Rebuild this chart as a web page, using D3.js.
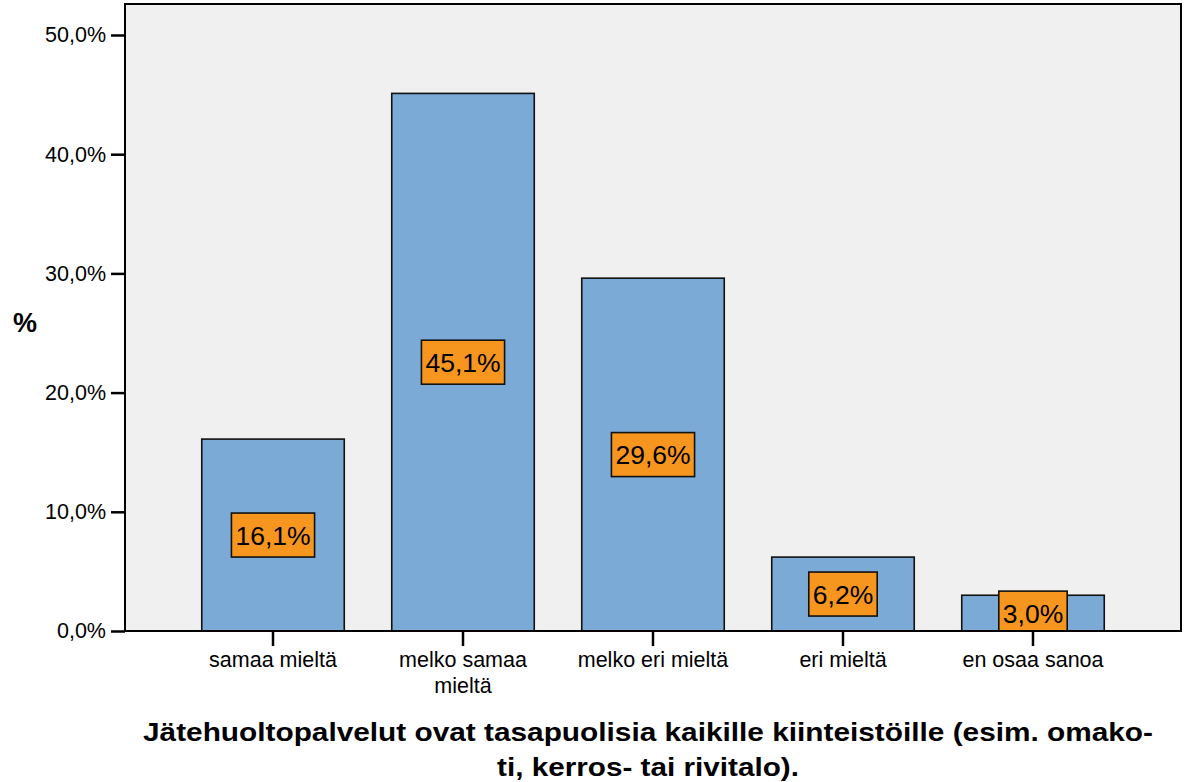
<!DOCTYPE html>
<html>
<head>
<meta charset="utf-8">
<script src="https://cdn.jsdelivr.net/npm/d3@7"></script>
<style>
  body { margin: 0; background: #fff; }
  svg { display: block; font-family: "Liberation Sans", Arial, sans-serif; }
</style>
</head>
<body>
<svg width="1189" height="782"></svg>
<script>
// chart data
const categories = ['samaa mieltä', 'melko samaa mieltä', 'melko eri mieltä', 'eri mieltä', 'en osaa sanoa'];
const values = [16.1, 45.1, 29.6, 6.2, 3.0];
const yTicks = [0, 10, 20, 30, 40, 50];
const titleLines = ['Jätehuoltopalvelut ovat tasapuolisia kaikille kiinteistöille (esim. omako-', 'ti, kerros- tai rivitalo).'];
const yTitle = '%';

const svg = d3.select('svg');
const plotLeft = 125, plotRight = 1181, plotTop = 4, plotBottom = 631;
const titleWidths = [1010, 302];

const fmt = v => v.toFixed(1).replace('.', ',') + '%';

const x = d3.scaleBand()
  .domain(categories)
  .range([plotLeft, plotRight])
  .paddingInner(0.25)
  .paddingOuter(0.404);

const y = d3.scaleLinear()
  .domain([0, 50])
  .range([plotBottom, 35]);

// plot background
svg.append('rect')
  .attr('x', plotLeft).attr('y', plotTop)
  .attr('width', plotRight - plotLeft).attr('height', plotBottom - plotTop)
  .attr('fill', '#f0f0f0');

svg.append('clipPath').attr('id', 'plot-clip')
  .append('rect')
  .attr('x', plotLeft).attr('y', plotTop)
  .attr('width', plotRight - plotLeft).attr('height', plotBottom - plotTop);

const plot = svg.append('g').attr('clip-path', 'url(#plot-clip)');

// bars
plot.selectAll('.bar')
  .data(values)
  .join('rect')
  .classed('bar', true)
  .attr('x', (d, i) => x(categories[i]))
  .attr('y', d => y(d))
  .attr('width', x.bandwidth())
  .attr('height', d => y(0) - y(d))
  .attr('fill', '#7baad6')
  .attr('stroke', '#111')
  .attr('stroke-width', 1.6);

// value labels
const lab = plot.selectAll('.lab')
  .data(values)
  .join('g')
  .classed('lab', true)
  .attr('transform', (d, i) => `translate(${x(categories[i]) + x.bandwidth() / 2},${y(d / 2)})`);

lab.append('rect')
  .attr('fill', '#f7961e')
  .attr('stroke', '#111')
  .attr('stroke-width', 1.6);

lab.append('text')
  .attr('text-anchor', 'middle')
  .attr('dy', '0.36em')
  .attr('font-size', 26.5)
  .attr('fill', '#000')
  .text(d => fmt(d));

lab.each(function() {
  const g = d3.select(this);
  const w = g.select('text').node().getComputedTextLength();
  g.select('rect')
    .attr('x', -w / 2 - 4).attr('y', -22)
    .attr('width', w + 8).attr('height', 44);
});

// frame
svg.append('rect')
  .attr('x', plotLeft).attr('y', plotTop)
  .attr('width', plotRight - plotLeft).attr('height', plotBottom - plotTop)
  .attr('fill', 'none')
  .attr('stroke', '#000')
  .attr('stroke-width', 2);

// y axis
const yAxis = svg.append('g')
  .attr('transform', `translate(${plotLeft},0)`)
  .call(d3.axisLeft(y).tickValues(yTicks).tickFormat(fmt).tickSize(14).tickPadding(5));
yAxis.select('.domain').remove();
yAxis.selectAll('line').attr('stroke', '#000').attr('stroke-width', 2.5);
yAxis.selectAll('text')
  .attr('font-size', 21.5)
  .attr('font-family', '"Liberation Sans", Arial, sans-serif')
  .attr('fill', '#000');

// x axis
const xAxis = svg.append('g')
  .attr('transform', `translate(0,${plotBottom})`)
  .call(d3.axisBottom(x).tickSize(15).tickPadding(6));
xAxis.select('.domain').remove();
xAxis.selectAll('line').attr('stroke', '#000').attr('stroke-width', 2.5);
xAxis.selectAll('text')
  .attr('font-size', 21.5)
  .attr('font-family', '"Liberation Sans", Arial, sans-serif')
  .attr('fill', '#000')
  .call(wrap, 170);

function wrap(texts, width) {
  texts.each(function() {
    const text = d3.select(this);
    const words = text.text().split(/\s+/);
    const yPos = text.attr('y');
    text.text(null);
    let line = [];
    let lineNo = 0;
    let tspan = text.append('tspan').attr('x', 0).attr('y', yPos).attr('dy', '0.71em');
    words.forEach(word => {
      line.push(word);
      tspan.text(line.join(' '));
      if (tspan.node().getComputedTextLength() > width && line.length > 1) {
        line.pop();
        tspan.text(line.join(' '));
        line = [word];
        lineNo++;
        tspan = text.append('tspan').attr('x', 0).attr('y', yPos)
          .attr('dy', (0.71 + lineNo * 1.2) + 'em').text(word);
      }
    });
  });
}

// y title
svg.append('text')
  .attr('x', 25).attr('y', 332)
  .attr('text-anchor', 'middle')
  .attr('font-size', 27)
  .attr('font-weight', 'bold')
  .text(yTitle);

// chart title
svg.append('g')
  .selectAll('text')
  .data(titleLines)
  .join('text')
  .attr('text-anchor', 'middle')
  .attr('font-size', 26.5)
  .attr('font-weight', 'bold')
  .attr('x', 648)
  .attr('y', (d, i) => 741 + i * 35)
  .attr('textLength', (d, i) => titleWidths[i])
  .attr('lengthAdjust', 'spacingAndGlyphs')
  .text(d => d);
</script>
</body>
</html>
